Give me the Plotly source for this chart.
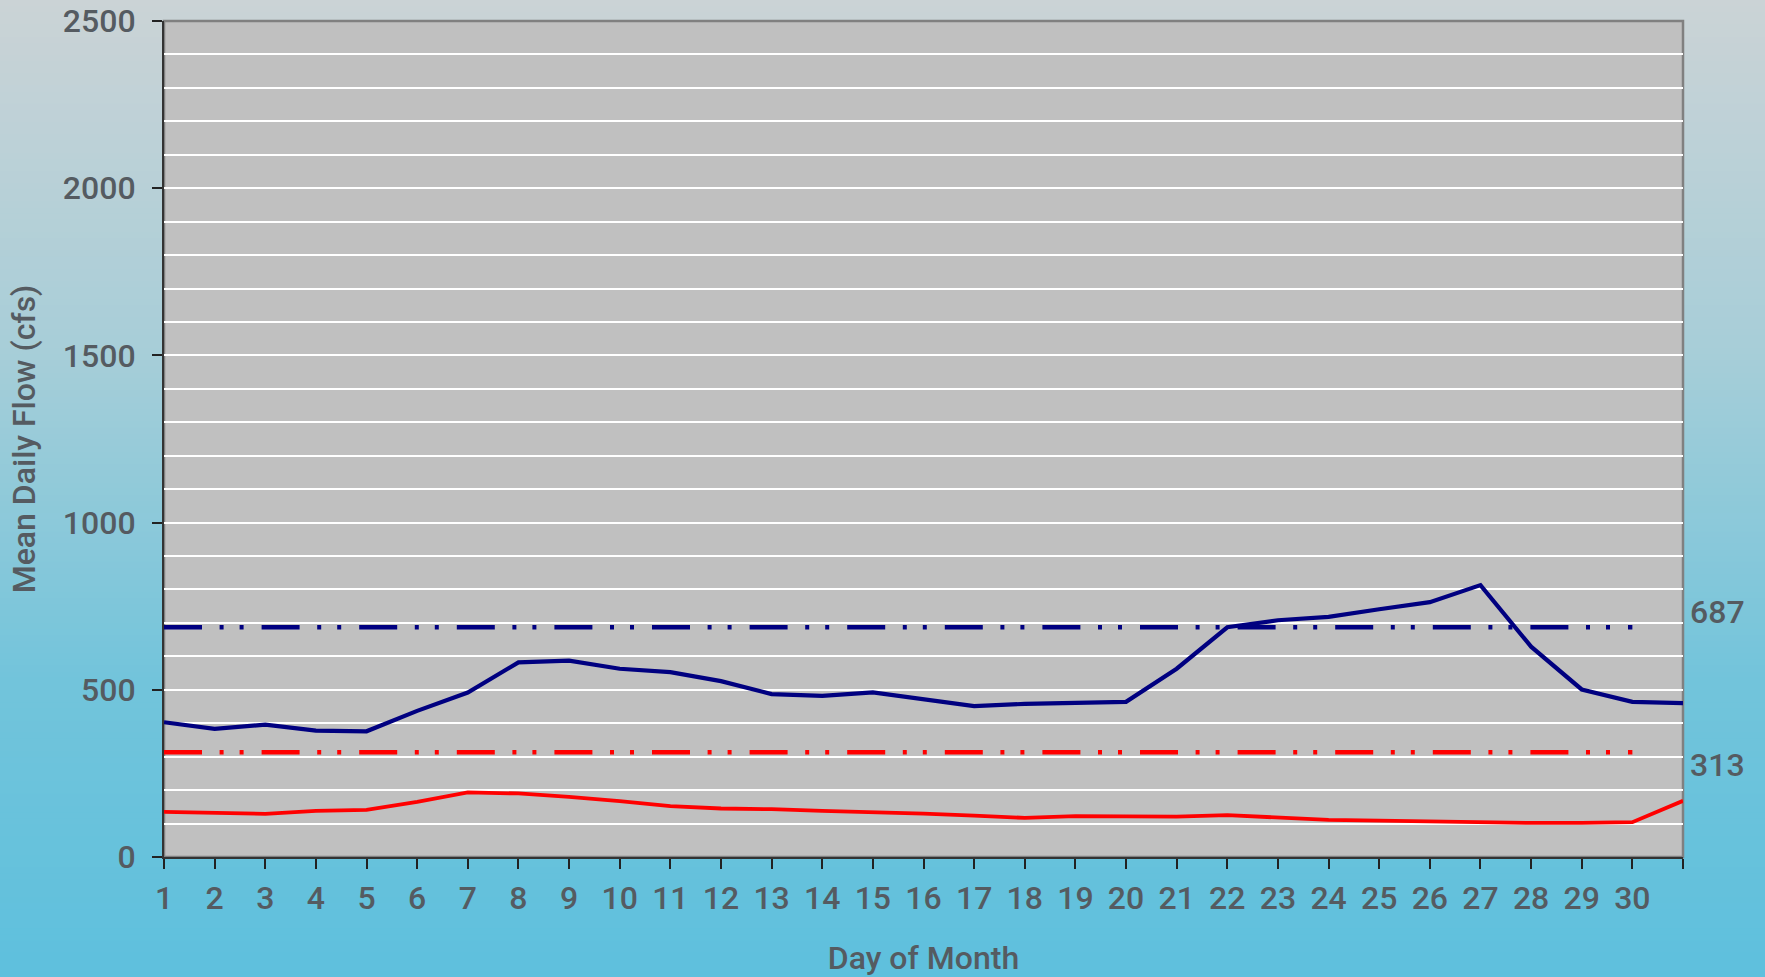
import plotly.graph_objects as go

# ---------------- data ----------------
days = list(range(1, 32))
tick_labels = [str(d) for d in range(1, 31)] + [""]

flow_upper = [403, 383, 396, 378, 376, 437, 492, 582, 587, 563, 553, 526, 487, 482,
              492, 470, 451, 458, 461, 464, 563, 687, 708, 718, 741, 762, 813, 629,
              501, 464, 460]
flow_lower = [135, 131, 129, 138, 141, 165, 193, 190, 180, 167, 152, 145, 143, 138,
              135, 130, 124, 117, 122, 121, 121, 125, 119, 111, 109, 106, 105, 102,
              102, 104, 168]
mean_days = list(range(1, 31))
mean_upper = 687
mean_lower = 313

# ---------------- layout constants ----------------
W, H = 1765, 977
ML, MR, MT, MB = 164, 82, 21, 120
PW, PH = W - ML - MR, H - MT - MB
TXT = "#555b61"
FONT = "Roboto"
FS = 32
FW = 500

fig = go.Figure()

dash_pat = "38px,17.6px,4px,16px,4px,18px"

fig.add_trace(go.Scatter(x=mean_days, y=[mean_upper] * len(mean_days), mode="lines",
                         line=dict(color="#000080", width=4.5, dash=dash_pat),
                         hoverinfo="skip", showlegend=False))
fig.add_trace(go.Scatter(x=mean_days, y=[mean_lower] * len(mean_days), mode="lines",
                         line=dict(color="#ff0000", width=4.5, dash=dash_pat),
                         hoverinfo="skip", showlegend=False))
fig.add_trace(go.Scatter(x=days, y=flow_upper, mode="lines",
                         line=dict(color="#000080", width=4.2), showlegend=False))
fig.add_trace(go.Scatter(x=days, y=flow_lower, mode="lines",
                         line=dict(color="#ff0000", width=3.8), showlegend=False))

# ---------------- background gradient ----------------
stops = [(0.0, (203, 211, 214)), (0.35, (168, 206, 216)),
         (0.7, (114, 196, 219)), (1.0, (94, 192, 221))]


def grad(t):
    for (t0, c0), (t1, c1) in zip(stops[:-1], stops[1:]):
        if t0 <= t <= t1:
            f = (t - t0) / (t1 - t0) if t1 > t0 else 0
            return "rgb(%d,%d,%d)" % tuple(round(a + (b - a) * f) for a, b in zip(c0, c1))
    return "rgb(%d,%d,%d)" % stops[-1][1]


shapes = []
N = 160
for i in range(N):
    py0 = H * i / N
    py1 = H * (i + 1) / N + 1
    y_top = (H - MB - py0) / PH
    y_bot = (H - MB - py1) / PH
    shapes.append(dict(type="rect", xref="paper", yref="paper",
                       x0=-0.2, x1=1.2, y0=y_bot, y1=y_top,
                       fillcolor=grad((i + 0.5) / N), line=dict(width=0),
                       layer="below"))
shapes.append(dict(type="rect", xref="paper", yref="paper", x0=0, x1=1, y0=0, y1=1,
                   fillcolor="#c0c0c0", line=dict(color="#808080", width=2.5),
                   layer="below"))

afont = dict(family=FONT, size=FS, color=TXT, weight=FW)
annotations = [
    dict(xref="paper", x=1, yref="y", y=mean_upper, text=str(mean_upper),
         xanchor="left", yanchor="middle", xshift=5, yshift=15, showarrow=False,
         font=afont),
    dict(xref="paper", x=1, yref="y", y=mean_lower, text=str(mean_lower),
         xanchor="left", yanchor="middle", xshift=5, yshift=-13, showarrow=False,
         font=afont),
]

tfont = dict(family=FONT, size=FS, color=TXT, weight=FW)

fig.update_layout(
    width=W, height=H,
    margin=dict(l=ML, r=MR, t=MT, b=MB, autoexpand=False),
    paper_bgcolor="rgb(94,192,221)",
    plot_bgcolor="#c0c0c0",
    shapes=shapes,
    annotations=annotations,
    font=tfont,
    xaxis=dict(range=[1, 31], tickmode="array", tickvals=days, ticktext=tick_labels,
               showgrid=False, zeroline=False, showline=True, linecolor="#333333",
               linewidth=2, ticks="outside", ticklen=10, tickcolor="#222222",
               tickwidth=1.5, ticklabelstandoff=2,
               tickfont=tfont,
               title=dict(text="Day of Month", standoff=30, font=tfont)),
    yaxis=dict(range=[0, 2500], dtick=500, tick0=0, showgrid=True,
               gridcolor="#ffffff", gridwidth=1.5, zeroline=False, showline=True,
               linecolor="#333333", linewidth=2, ticks="outside", ticklen=10,
               tickcolor="#222222", tickwidth=1.5, ticklabelstandoff=10,
               tickfont=tfont,
               minor=dict(dtick=100, showgrid=True, gridcolor="#ffffff",
                          gridwidth=1.5, ticks=""),
               title=dict(text="Mean Daily Flow (cfs)", standoff=18, font=tfont)),
)

fig.write_html("out.html", config={"displayModeBar": False},
               post_script="document.body.style.margin='0';")
